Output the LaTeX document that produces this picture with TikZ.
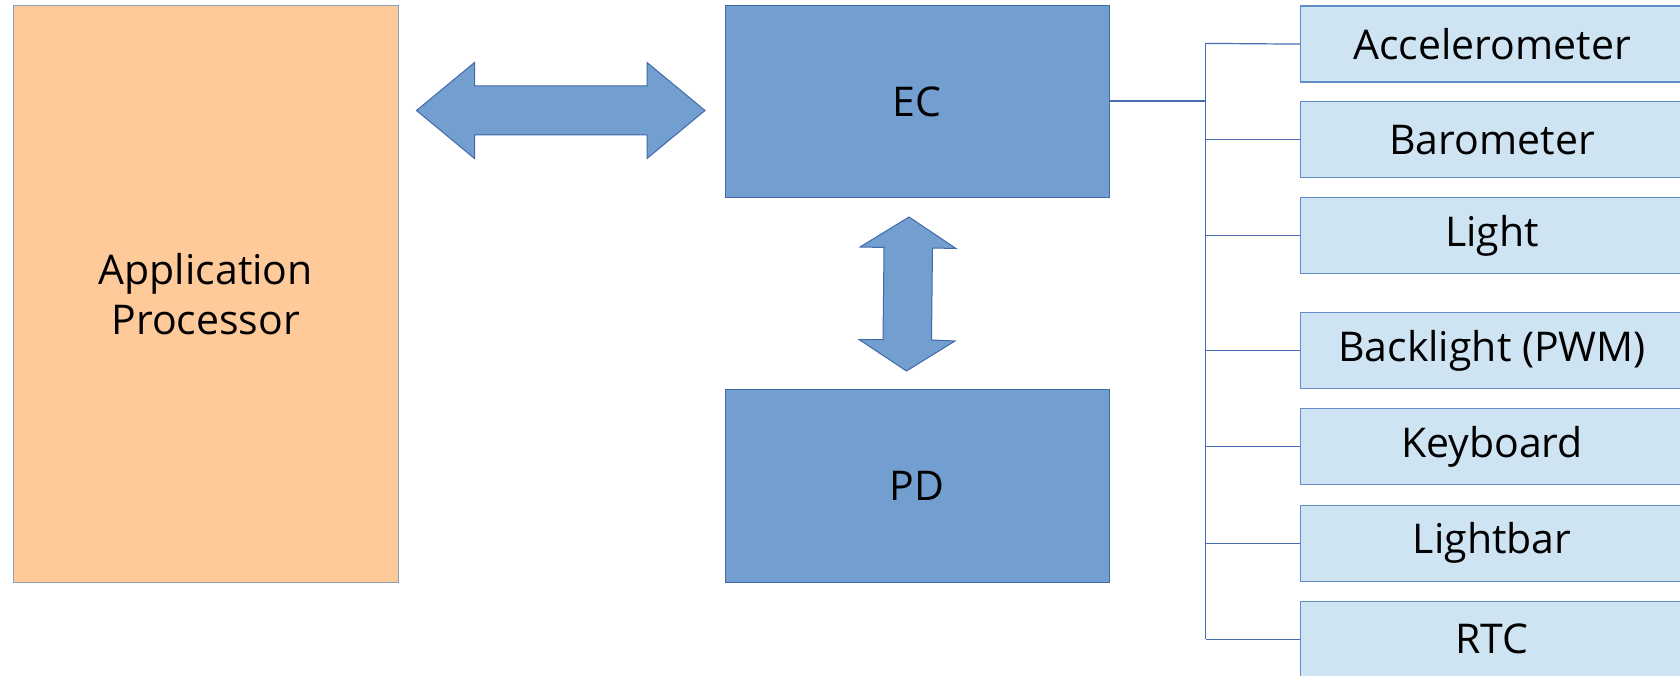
\documentclass[tikz,border=0pt]{standalone}
\usepackage{fontspec}
\setmainfont{Open Sans}
\definecolor{apfill}{RGB}{255,202,153}
\definecolor{apline}{RGB}{140,160,190}
\definecolor{bfill}{RGB}{114,159,207}
\definecolor{bline}{RGB}{65,105,170}
\definecolor{sfill}{RGB}{207,228,243}
\definecolor{sline}{RGB}{100,140,200}
\definecolor{tline}{RGB}{70,110,175}
\begin{document}
\begin{tikzpicture}[x=1pt,y=-1pt,
  box/.style={rectangle,inner sep=0pt,anchor=north west,font=\fontsize{41}{50}\selectfont,align=center},
  apbox/.style={box,fill=apfill,draw=apline,line width=1pt},
  bbox/.style={box,fill=bfill,draw=bline,line width=1pt},
  sbox/.style={box,fill=sfill,draw=sline,line width=1.2pt,minimum width=383pt,minimum height=76pt},
  bigarrow/.style={fill=bfill,draw=bline,line width=1pt,line join=miter},
  tree/.style={draw=tline,line width=1.2pt}]
\useasboundingbox (0,0) rectangle (1680,676);
\begin{scope}
\clip (0,0) rectangle (1680,676);
\node[apbox,minimum width=384.5pt,minimum height=576.5pt] (ap) at (13,5.5) {Application\\Processor};
\node[bbox,minimum width=384pt,minimum height=191.5pt] (ec) at (724.5,5.5) {EC};
\node[bbox,minimum width=384pt,minimum height=193pt] (pd) at (724.5,389) {PD};
% sensor boxes
\node[sbox] (acc) at (1300,5.5) {Accelerometer};
\node[sbox] (bar) at (1300,101) {Barometer};
\node[sbox] (lig) at (1300,197) {Light};
\node[sbox] (bkl) at (1300,312) {Backlight (PWM)};
\node[sbox] (key) at (1300,408) {Keyboard};
\node[sbox] (lbr) at (1300,504.5) {Lightbar};
\node[sbox] (rtc) at (1300,600.5) {RTC};
\end{scope}
% horizontal double arrow
\draw[bigarrow] (416.5,110.5) -- (474.5,62.5) -- (474.5,86) -- (647,86) -- (647,62.5) -- (705,110.5)
  -- (647,158.5) -- (647,135) -- (474.5,135) -- (474.5,158.5) -- cycle;
% vertical double arrow
\draw[bigarrow] (909,217) -- (956,248.5) -- (932.5,248) -- (931.5,340) -- (955,341) -- (906.5,371)
  -- (859,339.5) -- (883,339.5) -- (884,247.5) -- (860,247) -- cycle;
% tree
\coordinate (j) at (1205.5,101);
\draw[tree,line width=2pt] (ec.east |- j) -- (j);
\draw[tree] (1205.5,43.4) -- (acc.west);
\draw[tree] (1205.5,43.4) -- (1205.5,638.5);
\foreach \n in {bar,lig,bkl,key,lbr,rtc}{
  \draw[tree] (\n.west -| j) -- (\n.west);
}
\end{tikzpicture}
\end{document}
